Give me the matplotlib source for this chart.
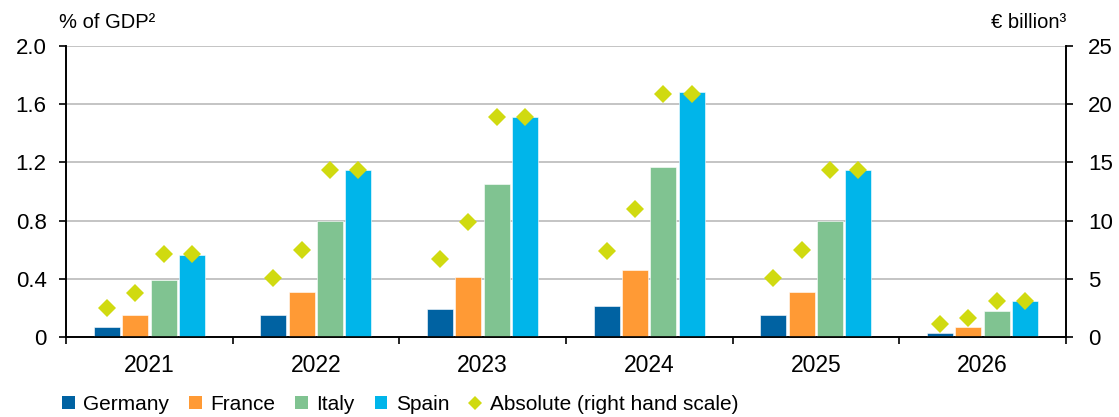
import matplotlib
matplotlib.use("Agg")
import matplotlib.pyplot as plt
from matplotlib.lines import Line2D
from matplotlib.patches import Patch
import numpy as np

years = ["2021", "2022", "2023", "2024", "2025", "2026"]
countries = ["Germany", "France", "Italy", "Spain"]

# Share of GDP (left scale)
germany_gdp = [0.07, 0.15, 0.19, 0.21, 0.15, 0.03]
france_gdp = [0.15, 0.31, 0.41, 0.46, 0.31, 0.07]
italy_gdp = [0.39, 0.80, 1.05, 1.17, 0.80, 0.18]
spain_gdp = [0.56, 1.15, 1.51, 1.68, 1.15, 0.25]

# Absolute amounts in EUR billion (right scale)
germany_abs = [2.5, 5.1, 6.7, 7.4, 5.1, 1.1]
france_abs = [3.75, 7.5, 9.9, 11.0, 7.5, 1.6]
italy_abs = [7.1, 14.3, 18.9, 20.9, 14.3, 3.1]
spain_abs = [7.1, 14.3, 18.9, 20.9, 14.3, 3.1]

left_ticks = [0, 0.4, 0.8, 1.2, 1.6, 2.0]
left_labels = ["0", "0.4", "0.8", "1.2", "1.6", "2.0"]
right_ticks = [0, 5, 10, 15, 20, 25]

colors = ["#0062A2", "#FF9A35", "#80C391", "#00B5EA"]
diamond_color = "#D0DA10"

font = "Liberation Sans"

fig = plt.figure(figsize=(11.19, 4.17), dpi=100)
ax = fig.add_axes([0.059, 0.192, 0.8935, 0.698])
ax2 = ax.twinx()

gdp = [germany_gdp, france_gdp, italy_gdp, spain_gdp]
absolute = [germany_abs, france_abs, italy_abs, spain_abs]

centers = np.arange(len(years)) + 0.5
step = 0.17
width = 0.156
for i, (vals, col) in enumerate(zip(gdp, colors)):
    off = (i - 1.5) * step
    ax.bar(centers + off, vals, width=width, color=col, edgecolor="white",
           linewidth=0.4, zorder=3)
    ax2.plot(centers + off, absolute[i], linestyle="none", marker="D",
             markersize=9, markeredgewidth=0, color=diamond_color, zorder=4)

ax.set_xlim(0, len(years))
ax.set_ylim(0, 2.0)
ax2.set_ylim(0, 25)

ax.set_yticks(left_ticks)
ax.set_yticklabels(left_labels)
ax2.set_yticks(right_ticks)

ax.set_xticks(np.arange(len(years) + 1))
ax.set_xticklabels([])
ax.set_xticks(centers, minor=True)
ax.set_xticklabels(years, minor=True)
ax.tick_params(axis="x", which="major", direction="out", length=5, width=1.2, color="black")
ax.tick_params(axis="x", which="minor", length=0, pad=12, labelsize=16.5)
ax.tick_params(axis="y", direction="out", length=5, width=1.2, pad=9, labelsize=16)
ax2.tick_params(axis="y", direction="out", length=5, width=1.2, pad=11, labelsize=16)

for lab in ax.get_xticklabels(minor=True) + ax.get_yticklabels() + ax2.get_yticklabels():
    lab.set_fontfamily(font)

ax.yaxis.grid(True, color="#BFBFBF", linewidth=1.3, zorder=0)
ax.set_axisbelow(True)

for a in (ax, ax2):
    a.spines["top"].set_visible(False)
    for s in ("left", "right", "bottom"):
        a.spines[s].set_linewidth(1.2)
        a.spines[s].set_color("black")

fig.text(59 / 1119, 1 - 28 / 417, "% of GDP²", fontsize=14.5, family=font,
         ha="left", va="baseline")
fig.text(1066 / 1119, 1 - 28 / 417, "€ billion³", fontsize=14.5, family=font,
         ha="right", va="baseline")

handles = [Patch(facecolor=c, edgecolor="none") for c in colors]
handles.append(Line2D([], [], linestyle="none", marker="D", markersize=7.5,
                      markeredgewidth=0, color=diamond_color))
labels = countries + ["Absolute (right hand scale)"]
fig.legend(handles, labels, loc="center left",
           bbox_to_anchor=(62 / 1119, 1 - 404.5 / 417), ncol=5,
           frameon=False, prop={"family": font, "size": 15}, handlelength=0.62,
           handleheight=0.62, handletextpad=0.4, columnspacing=0.95,
           borderpad=0, borderaxespad=0)

fig.savefig("out.png", dpi=100)
